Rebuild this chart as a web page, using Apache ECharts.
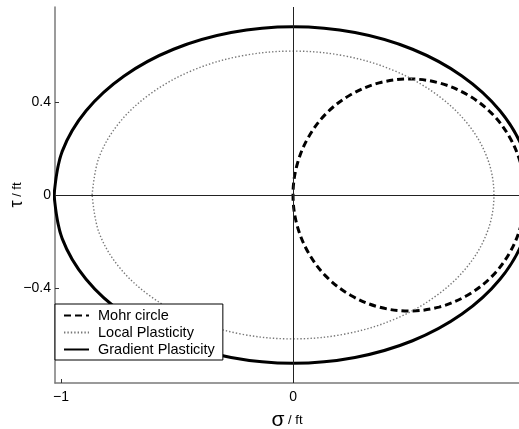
<!DOCTYPE html>
<html>
<head>
<meta charset="utf-8">
<script src="https://cdn.jsdelivr.net/npm/echarts@6/dist/echarts.min.js"></script>
<style>
  html, body { margin: 0; padding: 0; background: #fff; }
  #chart { width: 519px; height: 429px; }
</style>
</head>
<body>
<div id="chart"></div>
<script>
// tick positions
var xTicks = [-1, 0];
var yTicks = [-0.4, 0, 0.4];

// Mohr circle (dashed)
var mohrSigma = [1.0, 0.983, 0.933, 0.854, 0.75, 0.629, 0.5, 0.371, 0.25, 0.146, 0.067, 0.017, 0,
                 0.017, 0.067, 0.146, 0.25, 0.371, 0.5, 0.629, 0.75, 0.854, 0.933, 0.983, 1.0];
var mohrTau = [0, 0.129, 0.25, 0.354, 0.433, 0.483, 0.5, 0.483, 0.433, 0.354, 0.25, 0.129, 0,
               -0.129, -0.25, -0.354, -0.433, -0.483, -0.5, -0.483, -0.433, -0.354, -0.25, -0.129, 0];

// Local Plasticity (dotted)
var localSigma = [-0.866, -0.837, -0.750, -0.612, -0.433, -0.224, 0, 0.224, 0.433, 0.612, 0.750, 0.837, 0.866,
                  0.837, 0.750, 0.612, 0.433, 0.224, 0, -0.224, -0.433, -0.612, -0.750, -0.837, -0.866];
var localTau = [0, 0.160, 0.310, 0.438, 0.537, 0.599, 0.620, 0.599, 0.537, 0.438, 0.310, 0.160, 0,
                -0.160, -0.310, -0.438, -0.537, -0.599, -0.620, -0.599, -0.537, -0.438, -0.310, -0.160, 0];

// Gradient Plasticity (solid)
var gradSigma = [-1.03, -0.995, -0.892, -0.728, -0.515, -0.267, 0, 0.267, 0.515, 0.728, 0.892, 0.995, 1.03,
                 0.995, 0.892, 0.728, 0.515, 0.267, 0, -0.267, -0.515, -0.728, -0.892, -0.995, -1.03];
var gradTau = [0, 0.188, 0.363, 0.513, 0.628, 0.700, 0.725, 0.700, 0.628, 0.513, 0.363, 0.188, 0,
               -0.188, -0.363, -0.513, -0.628, -0.700, -0.725, -0.700, -0.628, -0.513, -0.363, -0.188, 0];

function pairs(xs, ys) {
    var out = [];
    for (var i = 0; i < xs.length; i++) {
        out.push([xs[i], ys[i]]);
    }
    return out;
}

function fmt(v) {
    return String(v).replace('-', '\u2212');
}

var font = 'Liberation Sans';
var axisCol = '#7a7a7a';

var chart = echarts.init(document.getElementById('chart'));
var option = {
    animation: false,
    backgroundColor: '#fff',
    grid: { left: 55, right: 0, top: 7, bottom: 46, containLabel: false, outerBoundsMode: 'none' },
    legend: {
        orient: 'vertical',
        left: 55,
        top: 304,
        padding: [4, 8, 3, 8],
        itemWidth: 25,
        itemHeight: 14,
        itemGap: 2,
        backgroundColor: '#fff',
        borderColor: '#000',
        borderWidth: 1,
        itemStyle: { opacity: 0 },
        textStyle: { fontFamily: font, fontSize: 14.5, color: '#000', padding: [0, 0, 0, 4] },
        data: ['Mohr circle', 'Local Plasticity', 'Gradient Plasticity']
    },
    xAxis: {
        type: 'value',
        min: -1.026,
        max: 0.974,
        splitLine: { show: false },
        axisLine: { onZero: false, lineStyle: { color: axisCol, width: 1.5 } },
        axisTick: { inside: true, length: 4, customValues: xTicks, lineStyle: { color: '#333' } },
        axisLabel: {
            customValues: xTicks, margin: 7, color: '#000', fontFamily: font, fontSize: 14,
            formatter: fmt
        },
        name: '{a|\u03c3}{b| / ft}',
        nameLocation: 'middle',
        nameGap: 27,
        nameTextStyle: {
            rich: {
                a: { fontFamily: font, fontSize: 21, color: '#000' },
                b: { fontFamily: font, fontSize: 13, color: '#000' }
            }
        }
    },
    yAxis: {
        type: 'value',
        min: -0.81,
        max: 0.81,
        splitLine: { show: false },
        axisLine: { onZero: false, lineStyle: { color: axisCol, width: 1.5 } },
        axisTick: { inside: true, length: 4, customValues: yTicks, lineStyle: { color: '#333' } },
        axisLabel: {
            customValues: yTicks, margin: 4, color: '#000', fontFamily: font, fontSize: 14,
            formatter: fmt
        },
        name: '{a|\u03c4}{b| / ft}',
        nameLocation: 'middle',
        nameRotate: 90,
        nameGap: 29,
        nameMoveOverlap: false,
        nameTextStyle: {
            rich: {
                a: { fontFamily: font, fontSize: 18, color: '#000' },
                b: { fontFamily: font, fontSize: 13, color: '#000' }
            }
        }
    },
    series: [
        {
            name: 'Mohr circle',
            type: 'line',
            data: pairs(mohrSigma, mohrTau),
            smooth: 0.35,
            symbol: 'none',
            showSymbol: false,
            lineStyle: { color: '#000', width: 3, type: [7, 4] },
            itemStyle: { color: '#000' },
            markLine: {
                silent: true,
                symbol: 'none',
                label: { show: false },
                lineStyle: { color: '#222', width: 1, type: 'solid' },
                data: [{ xAxis: 0 }, { yAxis: 0 }]
            }
        },
        {
            name: 'Local Plasticity',
            type: 'line',
            data: pairs(localSigma, localTau),
            smooth: 0.35,
            symbol: 'none',
            showSymbol: false,
            lineStyle: { color: '#777', width: 1.4, type: [1.4, 2] },
            itemStyle: { color: '#777' }
        },
        {
            name: 'Gradient Plasticity',
            type: 'line',
            data: pairs(gradSigma, gradTau),
            smooth: 0.35,
            symbol: 'none',
            showSymbol: false,
            lineStyle: { color: '#000', width: 3 },
            itemStyle: { color: '#000' }
        }
    ]
};
chart.setOption(option);
</script>
</body>
</html>
